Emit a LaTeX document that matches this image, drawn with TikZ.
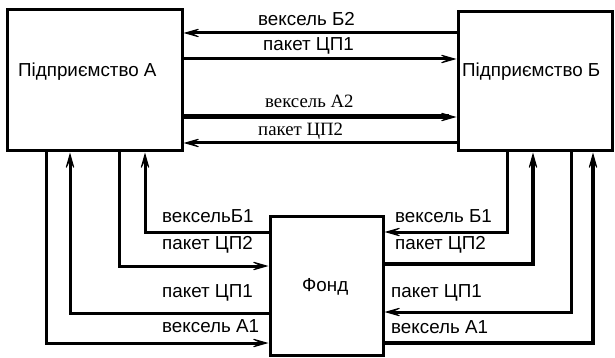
\documentclass[tikz,border=0pt]{standalone}
\usepackage{fontspec}
\setmainfont{Liberation Sans}
\newfontfamily\serifface{Liberation Serif}
\usetikzlibrary{arrows.meta}

\tikzset{
  partybox/.style={draw, line width=3pt, inner sep=0pt},
  linkarrow/.style={line width=3pt, -{Stealth[length=21pt,width=12pt,inset=13pt,line width=1pt]}},
  boldlink/.style={linkarrow, line width=5pt},
  sanslabel/.style={font=\fontsize{18.8}{22}\selectfont, inner sep=0pt, anchor=west},
  seriflabel/.style={font=\fontsize{18.8}{22}\serifface, inner sep=0pt, anchor=west},
}

\begin{document}
\begin{tikzpicture}[x=1pt,y=1pt]
\useasboundingbox (0,-358) rectangle (615,0);

% the three parties
\node[partybox, minimum width=175pt, minimum height=141pt] (A) at (94.5,-80.5) {};
\node[partybox, minimum width=154pt, minimum height=139pt] (B) at (535,-81.5) {};
\node[partybox, minimum width=113pt, minimum height=139pt] (F) at (326.5,-285.5) {};

\node[sanslabel] (tA) at (18,-72) {Підприємство А};
\node[sanslabel] (tB) at (462,-72) {Підприємство Б};
\node[sanslabel] (tF) at (302,-287) {Фонд};

% exchange between the two enterprises
\draw[linkarrow] (B.west |- 0,-33)  -- (A.east |- 0,-33);
\draw[linkarrow] (A.east |- 0,-59)  -- (B.west |- 0,-59);
\draw[boldlink]  (A.east |- 0,-117) -- (B.west |- 0,-117);
\draw[linkarrow] (B.west |- 0,-143) -- (A.east |- 0,-143);

\node[sanslabel]  (l1) at (258,-19)  {вексель Б2};
\node[sanslabel]  (l2) at (263,-46)  {пакет ЦП1};
\node[seriflabel] (l3) at (265,-101) {вексель А2};
\node[seriflabel] (l4) at (258,-131) {пакет ЦП2};

% enterprise A and the fund
\draw[linkarrow] (A.south -| 46,0)  |- (F.west |- 0,-343);
\draw[linkarrow] (F.west |- 0,-313)  -| (A.south -| 70,0);
\draw[linkarrow] (A.south -| 119,0) |- (F.west |- 0,-266);
\draw[linkarrow] (F.west |- 0,-232)  -| (A.south -| 145,0);

\node[sanslabel] (l5) at (162,-216) {вексельБ1};
\node[sanslabel] (l6) at (162,-245) {пакет ЦП2};
\node[sanslabel] (l7) at (162,-293) {пакет ЦП1};
\node[sanslabel] (l8) at (162,-326) {вексель А1};

% enterprise B and the fund
\draw[linkarrow] (B.south -| 507,0) |- (F.east |- 0,-232);
\draw[linkarrow, line width=3.4pt] (F.east |- 0,-264) -| (B.south -| 533,0);
\draw[linkarrow] (B.south -| 571,0) |- (F.east |- 0,-312);
\draw[linkarrow, line width=3.4pt] (F.east |- 0,-343) -| (B.south -| 593,0);

\node[sanslabel] (l9)  at (395,-216) {вексель Б1};
\node[sanslabel] (l10) at (395,-245) {пакет ЦП2};
\node[sanslabel] (l11) at (391,-293) {пакет ЦП1};
\node[sanslabel] (l12) at (391,-327) {вексель А1};
\end{tikzpicture}
\end{document}
